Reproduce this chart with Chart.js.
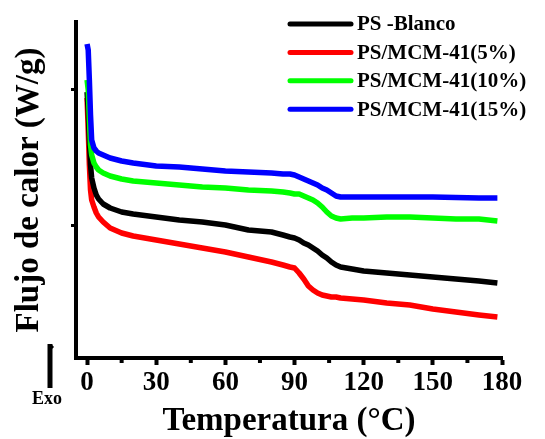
<!DOCTYPE html>
<html>
<head>
<meta charset="utf-8">
<script src="https://cdn.jsdelivr.net/npm/chart.js@4/dist/chart.umd.min.js"></script>
<style>
  html, body { margin: 0; padding: 0; background: #fff; }
  #wrap { width: 545px; height: 439px; }
</style>
</head>
<body>
<div id="wrap"><canvas id="dsc" width="545" height="439"></canvas></div>
<script>
// ---- datos (flujo de calor en unidades arbitrarias) ----
const temperaturas = [0, 0.5, 1, 1.5, 2, 3, 4, 5, 7, 10, 15, 20, 30, 40, 50, 60, 70, 80, 85, 88,
  90, 92, 94, 96, 98, 100, 102, 104, 106, 108, 110, 115, 120, 130, 140, 150, 160, 170, 178];

const psBlanco = [266, 248, 218, 193, 180, 170, 163, 159, 154, 150, 146, 144, 141, 138, 136, 133, 128, 126, 123, 121,
  120, 118, 115, 113, 110, 107, 103, 100, 96, 93, 91, 89, 87, 85, 83, 81, 79, 77, 75];
const psMcm5 = [260, 228, 193, 168, 158, 151, 145, 141, 136, 130, 125, 122, 118, 114, 110, 106, 101, 96, 93, 91,
  90, 85, 79, 72, 68, 65, 63, 62, 61, 61, 60, 59, 58, 55, 53, 49, 46, 43, 41];
const psMcm10 = [278, 268, 238, 213, 203, 195, 191, 188, 185, 182, 179, 177, 175, 173, 171, 170, 168, 167, 166, 165,
  164, 164, 162, 160, 158, 155, 151, 146, 142, 140, 139, 140, 140, 141, 141, 140, 139, 139, 137];
const psMcm15 = [314, 308, 278, 243, 218, 210, 207, 205, 203, 200, 197, 195, 192, 191, 189, 187, 186, 185, 184, 184,
  183, 181, 179, 177, 175, 173, 170, 168, 165, 162, 161, 161, 161, 161, 161, 161, 160.5, 160, 160];

const etiquetas = ["PS -Blanco", "PS/MCM-41(5%)", "PS/MCM-41(10%)", "PS/MCM-41(15%)"];
const colores = ["#000000", "#ff0000", "#00ff00", "#0000ff"];
const orden = [2, 3, 1, 0]; // azul encima de todo

const xTicks = [0, 30, 60, 90, 120, 150, 180];
const xMinorTicks = [15, 45, 75, 105, 135, 165];
const yTicks = [133, 268];

const serie = vals => temperaturas.map((t, i) => ({ x: t, y: vals[i] }));
const series = [psBlanco, psMcm5, psMcm10, psMcm15];

const FONT = "'Liberation Serif', 'DejaVu Serif', serif";

// leyenda dentro del area, estilo de la figura original
const leyendaPlugin = {
  id: "leyenda",
  afterDraw(chart) {
    const c = chart.ctx;
    c.save();
    chart.data.datasets.forEach((ds, i) => {
      const y = 24 + i * 28.4;
      c.strokeStyle = ds.borderColor;
      c.lineWidth = 5;
      c.lineCap = "round";
      c.beginPath();
      c.moveTo(290, y);
      c.lineTo(351, y);
      c.stroke();
      c.fillStyle = "#000";
      c.font = "bold 21px " + FONT;
      c.textBaseline = "middle";
      c.textAlign = "left";
      c.fillText(ds.label, 357, y + 1);
    });
    c.restore();
  }
};

// ticks menores del eje x + flecha "Exo"
const extrasPlugin = {
  id: "extras",
  afterDraw(chart) {
    const c = chart.ctx;
    const sx = chart.scales.x;
    const base = chart.chartArea.bottom;
    c.save();
    c.strokeStyle = "#000";
    c.lineWidth = 4;
    xMinorTicks.forEach(v => {
      const px = sx.getPixelForValue(v);
      c.beginPath();
      c.moveTo(px, base);
      c.lineTo(px, base + 5);
      c.stroke();
    });
    // flecha
    c.lineWidth = 5;
    c.beginPath();
    c.moveTo(50, 388);
    c.lineTo(50, 344);
    c.stroke();
    c.lineWidth = 3;
    c.beginPath();
    c.moveTo(50, 345);
    c.lineTo(53, 348);
    c.stroke();
    c.fillStyle = "#000";
    c.font = "bold 18px " + FONT;
    c.textAlign = "center";
    c.textBaseline = "middle";
    c.fillText("Exo", 47, 399);
    c.restore();
  }
};

new Chart(document.getElementById("dsc"), {
  type: "line",
  data: {
    datasets: series.map((s, i) => ({
      label: etiquetas[i],
      data: serie(s),
      borderColor: colores[i],
      backgroundColor: colores[i],
      borderWidth: 5.5,
      pointRadius: 0,
      tension: 0,
      borderJoinStyle: "round",
      order: orden[i],
      fill: false
    }))
  },
  options: {
    responsive: false,
    animation: false,
    layout: { padding: { top: 22, right: 43, left: 0, bottom: 0 } },
    plugins: { legend: { display: false }, tooltip: { enabled: false } },
    scales: {
      x: {
        type: "linear",
        min: -4.8,
        max: 180,
        afterBuildTicks: s => { s.ticks = xTicks.map(v => ({ value: v })); },
        afterFit: s => { s.height = 81; },
        border: { display: true, color: "#000", width: 4 },
        grid: { drawOnChartArea: false, drawTicks: true, tickLength: 7, tickWidth: 4, tickColor: "#000" },
        ticks: {
          color: "#000",
          padding: 2,
          maxRotation: 0,
          autoSkip: false,
          font: { family: FONT, size: 27, weight: "bold" }
        },
        title: {
          display: true,
          text: "Temperatura (°C)",
          color: "#000",
          padding: { top: 0, bottom: 1 },
          font: { family: FONT, size: 33, weight: "bold", lineHeight: 1 }
        }
      },
      y: {
        type: "linear",
        min: 0,
        max: 336,
        afterBuildTicks: s => { s.ticks = yTicks.map(v => ({ value: v })); },
        afterFit: s => { s.width = 76; },
        border: { display: true, color: "#000", width: 4 },
        grid: { drawOnChartArea: false, drawTicks: true, tickLength: 5, tickWidth: 3, tickColor: "#000" },
        ticks: { display: false },
        title: {
          display: true,
          text: "Flujo de calor (W/g)",
          color: "#000",
          padding: { top: 13, bottom: 0 },
          font: { family: FONT, size: 33, weight: "bold", lineHeight: 1 }
        }
      }
    }
  },
  plugins: [leyendaPlugin, extrasPlugin]
});
</script>
</body>
</html>
